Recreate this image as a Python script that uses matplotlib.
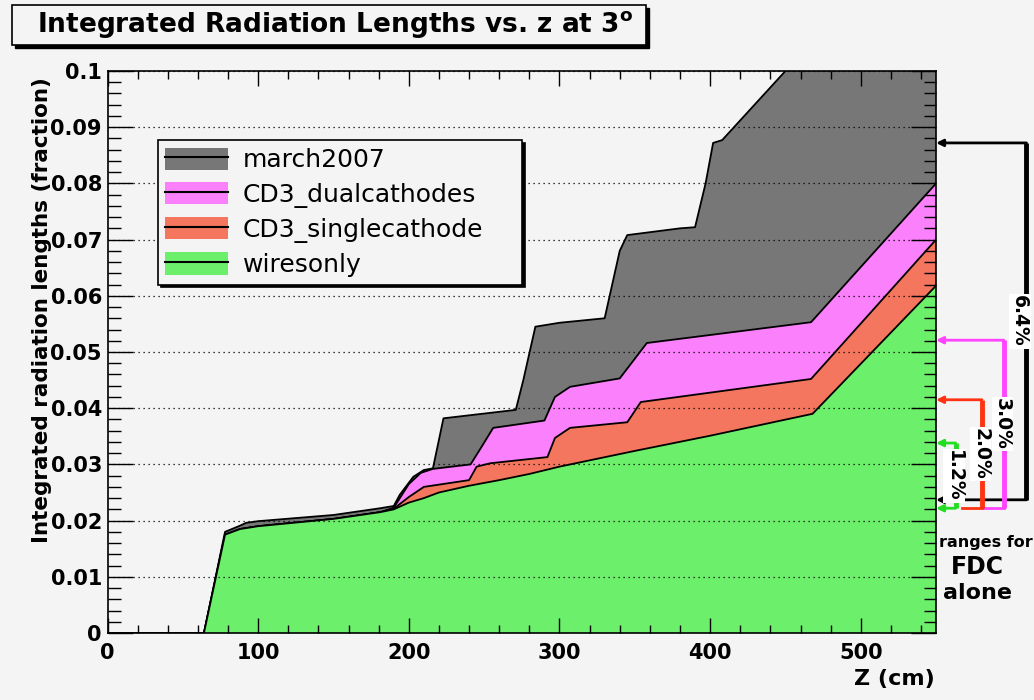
import matplotlib.pyplot as plt
from matplotlib.patches import Patch, Rectangle
from matplotlib.lines import Line2D
from matplotlib.ticker import MultipleLocator, FuncFormatter

# integrated radiation length (fraction) vs z (cm), one curve per geometry
z_march = [0, 64, 78, 88, 92, 100, 150, 181, 190, 194, 203, 210, 216, 223, 271, 276, 284,
           300, 330, 340, 345, 380, 390, 397, 402, 408, 450, 550]
v_march = [0, 0, 0.0180, 0.0191, 0.0196, 0.0199, 0.0210, 0.0222, 0.0226, 0.0246, 0.0278, 0.0290,
           0.0293, 0.0382, 0.0397, 0.0450, 0.0545, 0.0552, 0.0560, 0.0680, 0.0708, 0.0720, 0.0722,
           0.0800, 0.0872, 0.0877, 0.1000, 0.1290]

z_dual = [0, 64, 78, 88, 100, 150, 181, 190, 200, 208, 216, 241, 248, 256, 290, 297, 307,
          340, 358, 467, 550]
v_dual = [0, 0, 0.0175, 0.0185, 0.0190, 0.0203, 0.0215, 0.0223, 0.0265, 0.0285, 0.0292, 0.0300,
          0.0330, 0.0365, 0.0378, 0.0420, 0.0438, 0.0453, 0.0516, 0.0553, 0.0800]

z_single = [0, 64, 78, 88, 100, 150, 181, 190, 200, 210, 240, 245, 254, 292, 297, 307,
            345, 354, 467, 550]
v_single = [0, 0, 0.0175, 0.0185, 0.0190, 0.0203, 0.0215, 0.0221, 0.0242, 0.0260, 0.0272, 0.0296,
            0.0302, 0.0313, 0.0347, 0.0365, 0.0375, 0.0411, 0.0452, 0.0700]

z_wires = [0, 64, 78, 88, 100, 150, 181, 190, 200, 210, 220, 240, 260, 280, 300, 350, 400, 468, 550]
v_wires = [0, 0, 0.0175, 0.0185, 0.0190, 0.0203, 0.0215, 0.0220, 0.0232, 0.0240, 0.0250, 0.0262,
           0.0272, 0.0283, 0.0296, 0.0324, 0.0351, 0.0390, 0.0618]

names = ['march2007', 'CD3_dualcathodes', 'CD3_singlecathode', 'wiresonly']
fills = ['#777777', '#fb80fb', '#f4765e', '#6cf06c']

# FDC-only ranges marked at the right edge
range_labels = ['6.4%', '3.0%', '2.0%', '1.2%']
range_top = [0.0872, 0.0521, 0.0415, 0.0338]
range_bottom = [0.0237, 0.0222, 0.0222, 0.0222]
range_colors = ['black', '#ff44ff', '#ff3311', '#22dd22']

bg = '#f4f4f4'
fig = plt.figure(figsize=(10.34, 7.0), dpi=100)
fig.patch.set_facecolor(bg)
ax = fig.add_axes([0.1040, 0.0957, 0.8013, 0.8029])
ax.set_facecolor(bg)

curves = [(z_march, v_march), (z_dual, v_dual), (z_single, v_single), (z_wires, v_wires)]
for i, (z, v) in enumerate(curves):
    ax.fill_between(z, 0, v, facecolor=fills[i], edgecolor='none', zorder=1 + 0.1 * i)
    ax.plot(z, v, color='black', lw=1.3, zorder=1.05 + 0.1 * i)

ax.set_xlim(0, 550)
ax.set_ylim(0, 0.1)
ax.xaxis.set_major_locator(MultipleLocator(100))
ax.xaxis.set_minor_locator(MultipleLocator(20))
ax.yaxis.set_major_locator(MultipleLocator(0.01))
ax.yaxis.set_minor_locator(MultipleLocator(0.002))
ax.yaxis.set_major_formatter(FuncFormatter(lambda v, p: '%g' % round(v, 3)))
ax.tick_params(axis='both', which='both', direction='in', top=True, right=True,
               width=1.0, color='black')
ax.tick_params(axis='y', which='major', length=18, pad=4)
ax.tick_params(axis='y', which='minor', length=9)
ax.tick_params(axis='x', which='major', length=11, pad=7)
ax.tick_params(axis='x', which='minor', length=6)
for lab in ax.get_xticklabels() + ax.get_yticklabels():
    lab.set_fontsize(15)
    lab.set_fontweight('bold')
for s in ax.spines.values():
    s.set_linewidth(1.2)
ax.grid(axis='y', which='major', color='black', linestyle=(0, (1, 3)), lw=0.9)
ax.set_axisbelow(False)

# legend with black line through each swatch
handles = [(Patch(facecolor=c, edgecolor='none'), Line2D([], [], color='black', lw=1.5)) for c in fills]
leg = fig.legend(handles, names, loc='upper left', bbox_to_anchor=(0.1528, 0.60, 0.352, 0.20),
                 mode='expand', borderaxespad=0,
                 fontsize=18, frameon=True, fancybox=False, framealpha=1,
                 facecolor=bg, edgecolor='black', handlelength=2.5, handleheight=1.0,
                 labelspacing=0.38, handletextpad=0.6, borderpad=0.3,
                 shadow={'color': 'black', 'alpha': 1})
leg.get_frame().set_linewidth(1.2)

# title box
fig.patches.append(Rectangle((0.0145, 0.9314), 0.6132, 0.0571, transform=fig.transFigure,
                             facecolor='black', edgecolor='black', zorder=1))
fig.patches.append(Rectangle((0.0116, 0.9357), 0.6132, 0.0571, transform=fig.transFigure,
                             facecolor=bg, edgecolor='black', lw=1.2, zorder=2))
fig.text(0.0358, 0.9643, r'Integrated Radiation Lengths vs. z at 3$^{\mathbf{o}}$',
         fontsize=19, fontweight='bold', ha='left', va='center', zorder=3)

fig.text(0.041, 0.557, 'Integrated radiation lengths (fraction)', rotation=90,
         ha='center', va='center', fontsize=15.5, fontweight='bold')
fig.text(0.904, 0.030, 'Z (cm)', ha='right', va='center', fontsize=16, fontweight='bold')

# range brackets outside the frame
x_vert = [610, 595, 580.5, 563]
x_text = [605.5, 594, 579.5, 562]
x_low = [550, 581, 567, 550]
for i in range(4):
    c = range_colors[i]
    top, bot = range_top[i], range_bottom[i]
    ax.annotate('', xy=(550, top), xytext=(x_vert[i], top), annotation_clip=False,
                arrowprops=dict(arrowstyle='-|>', color=c, lw=2, mutation_scale=10,
                                shrinkA=0, shrinkB=0))
    ax.plot([x_vert[i], x_vert[i]], [top, bot], color=c, lw=3.5, clip_on=False,
            solid_capstyle='butt', zorder=3)
    if x_low[i] <= 550:
        ax.annotate('', xy=(550, bot), xytext=(x_vert[i], bot), annotation_clip=False,
                    arrowprops=dict(arrowstyle='-|>', color=c, lw=2, mutation_scale=10,
                                    shrinkA=0, shrinkB=0))
    else:
        ax.plot([x_low[i], x_vert[i]], [bot, bot], color=c, lw=2, clip_on=False, zorder=3)
    ax.text(x_text[i], (top + bot) / 2, range_labels[i], rotation=-90, ha='center',
            va='center', fontsize=13.5, fontweight='bold', clip_on=False, zorder=4,
            bbox=dict(facecolor='white', edgecolor='none', pad=1))

fig.text(0.9536, 1 - 543 / 700, 'ranges for', ha='center', va='center', fontsize=11.5,
         fontweight='bold')
fig.text(0.9454, 1 - 567 / 700, 'FDC', ha='center', va='center', fontsize=17, fontweight='bold')
fig.text(0.9454, 1 - 593 / 700, 'alone', ha='center', va='center', fontsize=16, fontweight='bold')

fig.savefig('out.png', dpi=100, facecolor=bg)
